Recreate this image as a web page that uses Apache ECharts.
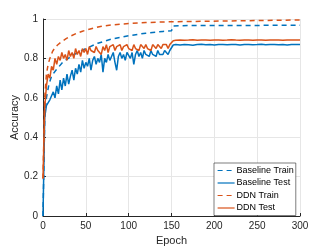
<!DOCTYPE html>
<html><head><meta charset="utf-8">
<script src="https://cdn.jsdelivr.net/npm/echarts@6/dist/echarts.min.js"></script>
<style>html,body{margin:0;padding:0;background:#fff}#c{width:332px;height:249px}</style>
</head><body><div id="c"></div>
<script>
var xTicks = [0, 50, 100, 150, 200, 250, 300];
var yTickLabels = ['0', '0.2', '0.4', '0.6', '0.8', '1'];
var seriesNames = ['Baseline Train', 'Baseline Test', 'DDN Train', 'DDN Test'];

var baselineTrainEpochs = [0, 2, 4, 7, 10, 15, 23, 35, 50, 64, 80, 100, 120, 140, 150, 152, 175, 300];
var baselineTrainValues = [0.0, 0.50, 0.60, 0.67, 0.71, 0.74, 0.78, 0.817, 0.85, 0.877, 0.898, 0.915, 0.928, 0.937, 0.94, 0.965, 0.967, 0.968];

var ddnTrainEpochs = [0, 2, 4, 6, 8, 11, 14, 17, 22, 27, 33, 39, 46, 54, 67, 80, 100, 120, 140, 150, 152, 300];
var ddnTrainValues = [0.19, 0.60, 0.72, 0.77, 0.80, 0.834, 0.855, 0.868, 0.886, 0.90, 0.915, 0.927, 0.938, 0.948, 0.962, 0.970, 0.977, 0.982, 0.985, 0.986, 0.994, 0.995];

var testEpochs = [0,2,4,6,8,10,12,14,16,18,20,22,24,26,28,30,32,34,36,38,40,42,44,46,48,50,52,54,56,58,60,62,64,66,68,70,72,74,76,78,80,82,84,86,88,90,92,94,96,98,100,102,104,106,108,110,112,114,116,118,120,122,124,126,128,130,132,134,136,138,140,142,144,146,148,150,152,155,160,165,170,175,180,185,190,195,200,205,210,215,220,225,230,235,240,245,250,255,260,265,270,275,280,285,290,295,300];

var baselineTestValues = [0.00,0.50,0.56,0.57,0.59,0.58,0.63,0.60,0.66,0.62,0.69,0.64,0.70,0.66,0.72,0.67,0.71,0.74,0.69,0.75,0.72,0.77,0.73,0.79,0.75,0.78,0.76,0.80,0.74,0.79,0.81,0.77,0.80,0.78,0.82,0.73,0.80,0.78,0.82,0.79,0.81,0.83,0.78,0.74,0.81,0.83,0.80,0.82,0.79,0.83,0.82,0.80,0.83,0.77,0.82,0.84,0.81,0.83,0.80,0.84,0.82,0.83,0.81,0.84,0.82,0.83,0.81,0.84,0.82,0.83,0.82,0.84,0.83,0.82,0.84,0.85,0.868,0.870,0.868,0.871,0.869,0.867,0.870,0.872,0.869,0.870,0.868,0.871,0.870,0.869,0.871,0.870,0.868,0.870,0.871,0.869,0.870,0.872,0.869,0.870,0.871,0.869,0.870,0.868,0.871,0.870,0.870];

var ddnTestValues = [0.19,0.55,0.66,0.72,0.70,0.76,0.74,0.80,0.77,0.81,0.79,0.83,0.80,0.82,0.79,0.84,0.81,0.83,0.80,0.85,0.82,0.84,0.81,0.85,0.83,0.85,0.82,0.86,0.84,0.85,0.83,0.86,0.84,0.85,0.82,0.86,0.84,0.87,0.83,0.86,0.85,0.87,0.84,0.86,0.85,0.87,0.84,0.86,0.85,0.87,0.85,0.86,0.84,0.87,0.85,0.86,0.84,0.87,0.86,0.85,0.87,0.85,0.86,0.84,0.87,0.86,0.85,0.87,0.86,0.85,0.87,0.86,0.87,0.85,0.87,0.88,0.890,0.892,0.894,0.892,0.893,0.895,0.892,0.893,0.894,0.892,0.893,0.894,0.892,0.893,0.895,0.893,0.892,0.894,0.893,0.892,0.894,0.893,0.892,0.893,0.894,0.893,0.892,0.894,0.893,0.893,0.893];

function pairs(xs, ys) { return xs.map(function (x, i) { return [x, ys[i]]; }); }

var BLUE = '#0072BD', ORANGE = '#D95319';
var font = 'Liberation Sans, Arial, sans-serif';
var chart = echarts.init(document.getElementById('c'), null, {renderer: 'canvas'});
chart.setOption({
  animation: false,
  grid: {left: 43, right: 32, top: 19, bottom: 33, containLabel: false, outerBoundsMode: 'none'},
  xAxis: {
    type: 'value', min: 0, max: 300, interval: 50,
    name: 'Epoch', nameLocation: 'middle', nameGap: 19, nameMoveOverlap: false,
    nameTextStyle: {fontFamily: font, fontSize: 11, color: '#262626'},
    axisLine: {show: true, lineStyle: {color: '#262626', width: 1}},
    axisTick: {show: true, inside: true, length: 3, lineStyle: {color: '#262626'}},
    axisLabel: {fontFamily: font, fontSize: 10, color: '#262626', margin: 5},
    splitLine: {show: true, lineStyle: {color: '#e6e6e6', width: 1}}
  },
  yAxis: {
    type: 'value', min: 0, max: 1, interval: 0.2,
    name: 'Accuracy', nameLocation: 'middle', nameGap: 23, nameRotate: 90, nameMoveOverlap: false,
    nameTextStyle: {fontFamily: font, fontSize: 11, color: '#262626'},
    axisLine: {show: true, lineStyle: {color: '#262626', width: 1}},
    axisTick: {show: true, inside: true, length: 3, lineStyle: {color: '#262626'}},
    axisLabel: {fontFamily: font, fontSize: 10, color: '#262626', margin: 5,
      formatter: function (v) { return yTickLabels[Math.round(v / 0.2)]; }},
    splitLine: {show: true, lineStyle: {color: '#e6e6e6', width: 1}}
  },
  legend: {
    orient: 'vertical', left: 214, top: 163,
    itemWidth: 17, itemHeight: 8, itemGap: 3.5,
    padding: [3, 2, 3, 3],
    backgroundColor: '#fff', borderColor: '#262626', borderWidth: 0.6, borderRadius: 0,
    itemStyle: {opacity: 0},
    lineStyle: {width: 1.2},
    textStyle: {fontFamily: font, fontSize: 9, color: '#000', padding: [0, 0, 0, -3]},
    data: seriesNames
  },
  series: [
    {name: seriesNames[0], type: 'line', showSymbol: false, symbol: 'none', data: pairs(baselineTrainEpochs, baselineTrainValues),
      lineStyle: {color: BLUE, width: 1.5, type: [5, 4]}, itemStyle: {color: BLUE}, z: 3},
    {name: seriesNames[1], type: 'line', showSymbol: false, symbol: 'none', data: pairs(testEpochs, baselineTestValues),
      lineStyle: {color: BLUE, width: 1.5}, itemStyle: {color: BLUE}, z: 3},
    {name: seriesNames[2], type: 'line', showSymbol: false, symbol: 'none', data: pairs(ddnTrainEpochs, ddnTrainValues),
      lineStyle: {color: ORANGE, width: 1.5, type: [5, 4]}, itemStyle: {color: ORANGE}, z: 4},
    {name: seriesNames[3], type: 'line', showSymbol: false, symbol: 'none', data: pairs(testEpochs, ddnTestValues),
      lineStyle: {color: ORANGE, width: 1.5}, itemStyle: {color: ORANGE}, z: 4}
  ]
});
</script></body></html>
